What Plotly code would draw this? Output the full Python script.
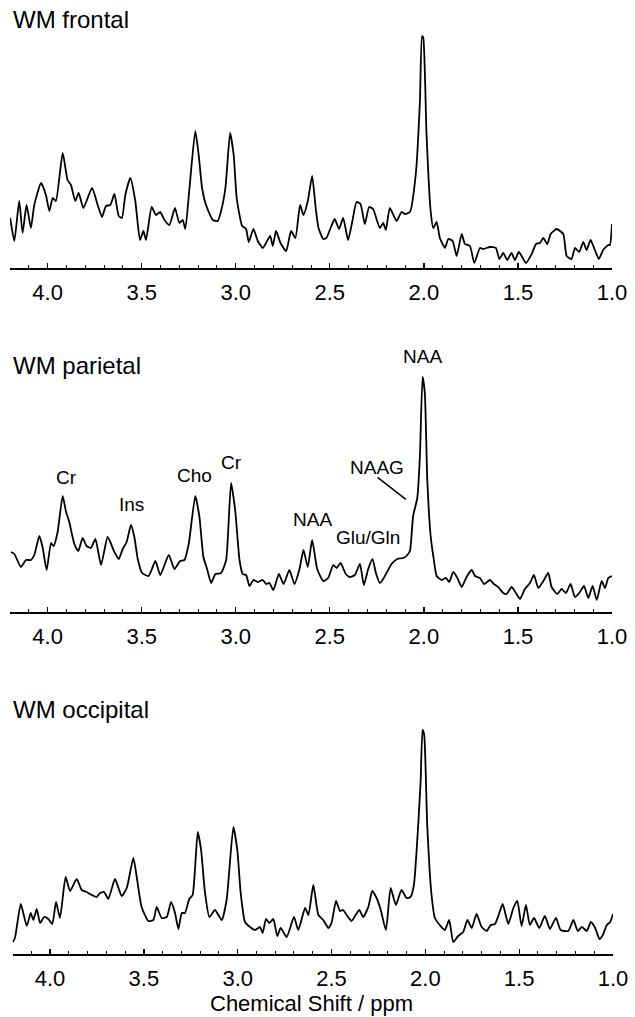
import plotly.graph_objects as go

# ---------------- data ----------------
tick_vals = [4.0, 3.5, 3.0, 2.5, 2.0, 1.5, 1.0]
tick_text = ["4.0", "3.5", "3.0", "2.5", "2.0", "1.5", "1.0"]
panel_titles = ["WM frontal", "WM parietal", "WM occipital"]

ppm_frontal = [4.199,4.177,4.151,4.133,4.112,4.089,4.071,4.035,4.009,3.991,
               3.973,3.956,3.920,3.894,3.876,3.853,3.835,3.810,3.764,3.734,
               3.711,3.690,3.667,3.645,3.622,3.605,3.587,3.560,3.534,3.509,
               3.491,3.477,3.447,3.424,3.402,3.379,3.353,3.323,3.300,3.282,
               3.268,3.246,3.215,3.197,3.179,3.158,3.122,3.096,3.078,3.055,
               3.030,3.011,2.995,2.966,2.945,2.931,2.906,2.883,2.856,2.839,
               2.817,2.803,2.786,2.762,2.732,2.706,2.683,2.658,2.640,2.617,
               2.594,2.575,2.560,2.535,2.518,2.496,2.474,2.451,2.429,2.403,
               2.380,2.358,2.337,2.314,2.291,2.270,2.234,2.216,2.202,2.181,
               2.145,2.119,2.101,2.074,2.043,2.021,2.010,2.003,1.986,1.964,
               1.950,1.932,1.915,1.888,1.870,1.847,1.826,1.799,1.782,1.755,
               1.732,1.702,1.684,1.649,1.617,1.599,1.578,1.557,1.534,1.516,
               1.495,1.457,1.427,1.404,1.383,1.365,1.344,1.326,1.294,1.259,
               1.241,1.215,1.197,1.174,1.153,1.135,1.114,1.091,1.070,1.047,
               1.020,1.011,1.000]
int_frontal = [50,27,67,35,63,40,63,85,73,57,
               70,67,115,88,83,67,75,60,80,63,
               51,62,63,74,52,50,73,90,67,28,
               37,28,61,53,56,48,43,60,45,48,
               39,80,137,113,80,63,48,47,57,80,
               135,113,70,42,39,26,39,27,20,25,
               32,22,37,25,17,37,30,63,53,67,
               92,60,40,29,30,40,49,39,50,28,
               47,66,64,44,61,59,40,45,38,60,
               47,56,54,56,94,167,232,230,134,57,
               40,46,30,20,29,27,12,34,24,22,
               5,20,19,21,20,9,15,8,15,8,
               16,5,14,24,25,30,24,34,39,34,
               12,9,20,16,26,18,28,18,9,18,
               23,23,44]

ppm_parietal = [4.195,4.177,4.142,4.115,4.089,4.071,4.044,4.027,4.005,3.982,
                3.968,3.947,3.920,3.902,3.885,3.858,3.837,3.814,3.793,3.770,
                3.746,3.716,3.681,3.645,3.622,3.601,3.580,3.557,3.539,3.521,
                3.498,3.463,3.427,3.401,3.356,3.326,3.296,3.273,3.250,3.215,
                3.193,3.172,3.154,3.131,3.108,3.078,3.051,3.025,3.002,2.980,
                2.963,2.945,2.927,2.906,2.883,2.856,2.839,2.821,2.800,2.771,
                2.746,2.715,2.688,2.661,2.640,2.617,2.594,2.567,2.535,2.509,
                2.482,2.464,2.443,2.415,2.394,2.367,2.340,2.319,2.296,2.273,
                2.255,2.234,2.207,2.172,2.141,2.110,2.088,2.074,2.057,2.035,
                2.021,2.007,1.995,1.982,1.964,1.950,1.932,1.906,1.883,1.865,
                1.844,1.822,1.799,1.773,1.746,1.728,1.702,1.680,1.649,1.628,
                1.605,1.578,1.560,1.534,1.511,1.489,1.463,1.436,1.415,1.392,
                1.365,1.339,1.321,1.291,1.268,1.245,1.220,1.197,1.174,1.149,
                1.126,1.103,1.081,1.055,1.037,1.020,1.000]
int_parietal = [60,58,45,52,52,57,76,65,42,69,
                66,80,116,100,90,68,61,74,66,64,
                73,47,75,60,53,63,70,87,75,53,
                39,36,51,37,57,43,51,52,68,116,
                95,55,44,29,38,39,52,129,100,52,
                38,37,26,32,30,32,28,29,22,38,
                28,42,28,43,62,45,72,43,31,34,
                47,44,49,38,35,37,48,27,43,53,
                39,29,36,48,53,54,57,61,96,114,
                156,235,219,133,76,56,36,32,34,30,
                40,34,25,35,42,36,34,28,32,28,
                25,19,18,25,19,13,23,29,37,24,
                31,39,25,18,23,19,28,15,19,26,
                14,26,12,31,24,34,36]

ppm_occipital = [4.199,4.187,4.156,4.124,4.103,4.089,4.071,4.053,4.032,4.009,
                 3.988,3.968,3.947,3.917,3.893,3.858,3.831,3.805,3.778,3.751,
                 3.734,3.712,3.689,3.654,3.618,3.591,3.556,3.538,3.512,3.476,
                 3.449,3.432,3.405,3.378,3.355,3.334,3.316,3.298,3.281,3.258,
                 3.240,3.213,3.195,3.174,3.151,3.121,3.085,3.059,3.023,3.002,
                 2.984,2.961,2.934,2.908,2.881,2.867,2.849,2.831,2.810,2.789,
                 2.771,2.739,2.700,2.677,2.641,2.623,2.597,2.570,2.544,2.517,
                 2.500,2.476,2.455,2.438,2.416,2.393,2.375,2.352,2.331,2.304,
                 2.283,2.260,2.239,2.210,2.185,2.157,2.127,2.100,2.079,2.061,
                 2.038,2.025,2.015,2.006,1.990,1.967,1.949,1.919,1.896,1.873,
                 1.851,1.825,1.798,1.776,1.753,1.727,1.700,1.673,1.652,1.629,
                 1.611,1.588,1.558,1.531,1.510,1.487,1.464,1.443,1.421,1.393,
                 1.363,1.336,1.304,1.279,1.238,1.211,1.188,1.166,1.140,1.118,
                 1.095,1.072,1.054,1.033,1.015,1.000]
int_occipital = [12,16,50,28,41,34,45,31,37,35,
                 30,52,36,77,63,75,64,62,59,57,
                 61,62,55,75,58,66,96,77,47,33,
                 34,47,36,37,52,41,25,41,41,55,
                 59,122,104,61,37,44,34,54,127,104,
                 61,32,27,24,27,21,35,31,35,18,
                 26,17,37,24,46,39,69,39,34,26,
                 31,53,43,44,38,33,38,44,37,47,
                 63,56,45,24,66,49,64,56,57,69,
                 129,173,224,219,129,59,36,28,24,34,
                 12,18,22,34,26,40,27,23,29,30,
                 38,50,30,46,53,28,49,29,36,26,
                 38,25,36,24,23,34,23,27,23,32,
                 26,15,19,29,32,40]

peak_labels = ["Cr", "Ins", "Cho", "Cr", "NAA", "Glu/Gln", "NAAG", "NAA"]
peak_label_ppm = [3.899, 3.553, 3.218, 3.021, 2.590, 2.298, 2.250, 2.005]
peak_label_int = [135, 108, 137, 150, 93, 75, 145, 256]

# ---------------- layout ----------------
W, H = 635, 1017
FONT = "Liberation Sans, Arial, Helvetica, sans-serif"

fig = go.Figure()
series = [(ppm_frontal, int_frontal), (ppm_parietal, int_parietal), (ppm_occipital, int_occipital)]
for i, (xs, ys) in enumerate(series):
    sfx = "" if i == 0 else str(i + 1)
    fig.add_trace(go.Scatter(x=xs, y=ys, mode="lines",
                             line=dict(color="black", width=1.8, shape="spline", smoothing=0.5),
                             xaxis="x" + sfx, yaxis="y" + sfx, showlegend=False,
                             hoverinfo="skip"))

# pixel geometry: axis-line y (from top), y range top, x left/right pixel
axis_px = [268, 612, 954]
yr_top = [262, 270, 262]
x_px = [(10, 612), (10, 612), (12.5, 613)]
title_px = [20, 365, 709]

layout = dict(width=W, height=H, autosize=False, margin=dict(l=0, r=0, t=0, b=0, autoexpand=False),
              paper_bgcolor="white", plot_bgcolor="white",
              font=dict(family=FONT, color="black"))
for i in range(3):
    sfx = "" if i == 0 else str(i + 1)
    layout["xaxis" + sfx] = dict(
        domain=[x_px[i][0] / W, x_px[i][1] / W], range=[4.2, 1.0],
        anchor="y" + sfx, showline=True, linecolor="black", linewidth=1.6,
        showgrid=False, zeroline=False, automargin=False,
        ticks="inside", ticklen=5, tickwidth=1.3, tickcolor="black",
        tickvals=tick_vals, ticktext=tick_text,
        tickfont=dict(size=22, family=FONT, color="black"),
        ticklabelstandoff=4,
        minor=dict(ticks="inside", ticklen=3, tickwidth=1, tickcolor="black", dtick=0.1,
                   tick0=1.0, showgrid=False),
    )
    layout["yaxis" + sfx] = dict(
        domain=[1 - axis_px[i] / H, 1 - (axis_px[i] - yr_top[i]) / H],
        range=[0, yr_top[i]], anchor="x" + sfx, visible=False,
    )
fig.update_layout(**layout)

ann = []
for i, t in enumerate(panel_titles):
    ann.append(dict(text=t, xref="paper", yref="paper", x=11 / W, y=1 - title_px[i] / H,
                    xanchor="left", yanchor="middle", showarrow=False,
                    font=dict(size=24, family=FONT, color="black")))
for t, px, iy in zip(peak_labels, peak_label_ppm, peak_label_int):
    ann.append(dict(text=t, xref="x2", yref="y2", x=px, y=iy, xanchor="center",
                    yanchor="middle", showarrow=False,
                    font=dict(size=19, family=FONT, color="black")))
ann.append(dict(text="Chemical Shift / ppm", xref="paper", yref="paper", x=311 / W,
                y=1 - 1003 / H, xanchor="center", yanchor="middle", showarrow=False,
                font=dict(size=22, family=FONT, color="black")))
fig.update_layout(annotations=ann)

# NAAG pointer line
fig.add_shape(type="line", xref="x2", yref="y2", x0=2.246, y0=134.7, x1=2.096, y1=112.7,
              line=dict(color="black", width=1.5))

fig.write_html("out.html",
               config={"responsive": False, "displayModeBar": False, "staticPlot": True},
               post_script="document.body.style.margin='0';document.body.style.overflow='hidden';")
